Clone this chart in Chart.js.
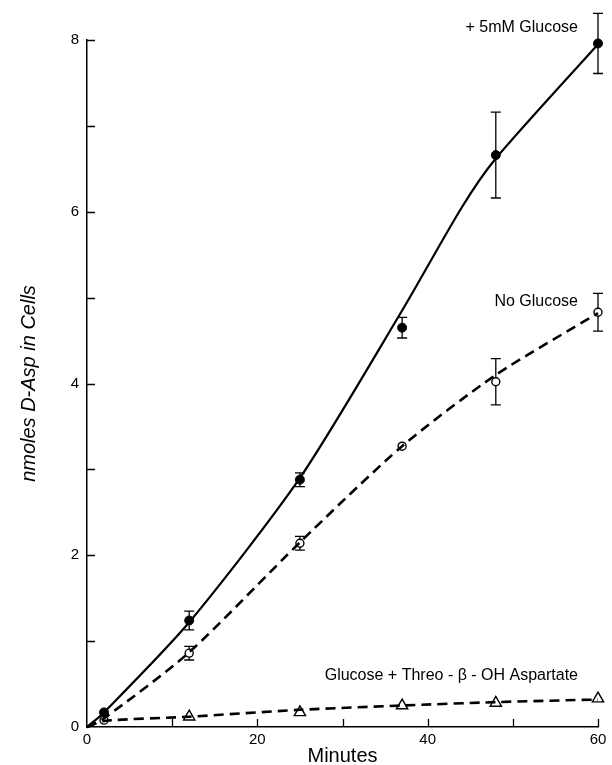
<!DOCTYPE html>
<html>
<head>
<meta charset="utf-8">
<script src="https://cdn.jsdelivr.net/npm/chart.js@4.4.0/dist/chart.umd.min.js"></script>
<style>
	body { margin: 0; background: #fff; }
</style>
</head>
<body>
<canvas id="canvasasp" width="612" height="765"></canvas>
<script>

// measured points
var minutes = [2, 12, 25, 37, 48, 60];
var glucose = [0.17, 1.24, 2.88, 4.65, 6.66, 7.96];
var glucoseErr = [0, 0.11, 0.08, 0.12, 0.5, 0.35];
var noGlucose = [0.08, 0.86, 2.14, 3.27, 4.02, 4.83];
var noGlucoseErr = [0, 0.08, 0.08, 0, 0.27, 0.22];
var threoMinutes = [12, 25, 37, 48, 60];
var threo = [0.12, 0.17, 0.25, 0.28, 0.33];

// fitted curves
var glucoseFitMinutes = [0, 2, 12, 25, 37, 44, 48, 60];
var glucoseFit = [0, 0.17, 1.22, 2.9, 4.85, 6.05, 6.62, 7.95];
var fitMinutes = [0, 2, 12, 25, 37, 48, 60];
var noGlucoseFit = [0, 0.1, 0.87, 2.15, 3.27, 4.1, 4.82];
var threoFit = [0, 0.07, 0.12, 0.2, 0.25, 0.29, 0.32];

var xTicks = [0, 20, 40, 60];
var yTicks = [0, 2, 4, 6, 8];

var font = "Helvetica, Arial, 'Liberation Sans', sans-serif";

function pts(xs, ys){
	var out = [];
	for (var i = 0; i < xs.length; i++){ out.push({x: xs[i], y: ys[i]}); }
	return out;
}

var errorbars = {
	id: 'errorbars',
	beforeDatasetsDraw: function(chart){
		var ctx = chart.ctx;
		var xs = chart.scales.x, ys = chart.scales.y;
		var sets = [[glucose, glucoseErr], [noGlucose, noGlucoseErr]];
		ctx.save();
		ctx.strokeStyle = '#000';
		ctx.lineWidth = 1.3;
		sets.forEach(function(s){
			for (var i = 0; i < minutes.length; i++){
				if (!s[1][i]) continue;
				var px = xs.getPixelForValue(minutes[i]);
				var top = ys.getPixelForValue(s[0][i] + s[1][i]);
				var bot = ys.getPixelForValue(s[0][i] - s[1][i]);
				ctx.beginPath();
				ctx.moveTo(px, top); ctx.lineTo(px, bot);
				ctx.moveTo(px - 5, top); ctx.lineTo(px + 5, top);
				ctx.moveTo(px - 5, bot); ctx.lineTo(px + 5, bot);
				ctx.stroke();
			}
		});
		ctx.restore();
	}
};

var innerticks = {
	id: 'innerticks',
	afterDraw: function(chart){
		var ctx = chart.ctx;
		var xs = chart.scales.x, ys = chart.scales.y;
		var a = chart.chartArea;
		ctx.save();
		ctx.strokeStyle = '#000';
		ctx.lineWidth = 1.3;
		ctx.beginPath();
		for (var v = 10; v <= 60; v += 10){
			var px = Math.round(xs.getPixelForValue(v)) + 0.5;
			ctx.moveTo(px, a.bottom); ctx.lineTo(px, a.bottom - 8);
		}
		for (var w = 1; w <= 8; w++){
			var py = Math.round(ys.getPixelForValue(w)) + 0.5;
			ctx.moveTo(a.left, py); ctx.lineTo(a.left + 8, py);
		}
		ctx.stroke();

		// series labels
		ctx.fillStyle = '#000';
		ctx.font = '16px ' + font;
		ctx.textAlign = 'right';
		ctx.textBaseline = 'middle';
		ctx.fillText('+ 5mM Glucose', 578, ys.getPixelForValue(8.15));
		ctx.fillText('No Glucose', 578, ys.getPixelForValue(4.95));
		ctx.fillText('Glucose + Threo - \u03B2 - OH Aspartate', 578, ys.getPixelForValue(0.6));
		ctx.restore();
	}
};

function init_chart_asp(){

	if( typeof (Chart) === 'undefined'){ return; }

	var chart_settings = {
		type: 'scatter',
		data: {
			datasets: [{
				data: pts(glucoseFitMinutes, glucoseFit),
				showLine: true,
				borderColor: '#000',
				borderWidth: 2.2,
				pointRadius: 0,
				tension: 0.25
			}, {
				data: pts(fitMinutes, noGlucoseFit),
				showLine: true,
				borderColor: '#000',
				borderWidth: 2.6,
				borderDash: [10, 6],
				pointRadius: 0,
				tension: 0.25
			}, {
				data: pts(fitMinutes, threoFit),
				showLine: true,
				borderColor: '#000',
				borderWidth: 2.6,
				borderDash: [10, 6],
				pointRadius: 0,
				tension: 0.25
			}, {
				data: pts(minutes, glucose),
				pointStyle: 'circle',
				pointRadius: 4.5,
				pointBackgroundColor: '#000',
				pointBorderColor: '#000',
				pointBorderWidth: 1
			}, {
				data: pts(minutes, noGlucose),
				pointStyle: 'circle',
				pointRadius: 4,
				pointBackgroundColor: '#fff',
				pointBorderColor: '#000',
				pointBorderWidth: 1.4
			}, {
				data: pts(threoMinutes, threo),
				pointStyle: 'triangle',
				pointRadius: 6.5,
				pointBackgroundColor: '#fff',
				pointBorderColor: '#000',
				pointBorderWidth: 1.4
			}]
		},
		options: {
			responsive: false,
			animation: false,
			clip: false,
			layout: { padding: { left: 0, right: 14, top: 40, bottom: 0 } },
			plugins: { legend: { display: false }, tooltip: { enabled: false } },
			scales: {
				x: {
					type: 'linear',
					min: 0,
					max: 60,
					afterFit: function(s){ s.height = 38; },
					afterBuildTicks: function(s){ s.ticks = xTicks.map(function(v){ return {value: v}; }); },
					grid: { display: false, drawTicks: false },
					border: { display: true, color: '#000', width: 1.5 },
					ticks: { color: '#000', padding: 4, maxRotation: 0, font: { family: font, size: 15 } },
					title: { display: true, text: 'Minutes', color: '#000', padding: 0,
						font: { family: font, size: 20, lineHeight: 0.84 } }
				},
				y: {
					min: 0,
					max: 8,
					afterFit: function(s){ s.width = 87; },
					afterBuildTicks: function(s){ s.ticks = yTicks.map(function(v){ return {value: v}; }); },
					grid: { display: false, drawTicks: false },
					border: { display: true, color: '#000', width: 1.5 },
					ticks: { color: '#000', padding: 8, font: { family: font, size: 15 } },
					title: { display: true, text: 'nmoles D-Asp in Cells', color: '#000', padding: { top: 17, bottom: 0 },
						font: { family: font, size: 20, style: 'italic' } }
				}
			}
		},
		plugins: [errorbars, innerticks]
	};

	var chart_asp = new Chart(document.getElementById('canvasasp'), chart_settings);
}

init_chart_asp();

</script>
</body>
</html>
